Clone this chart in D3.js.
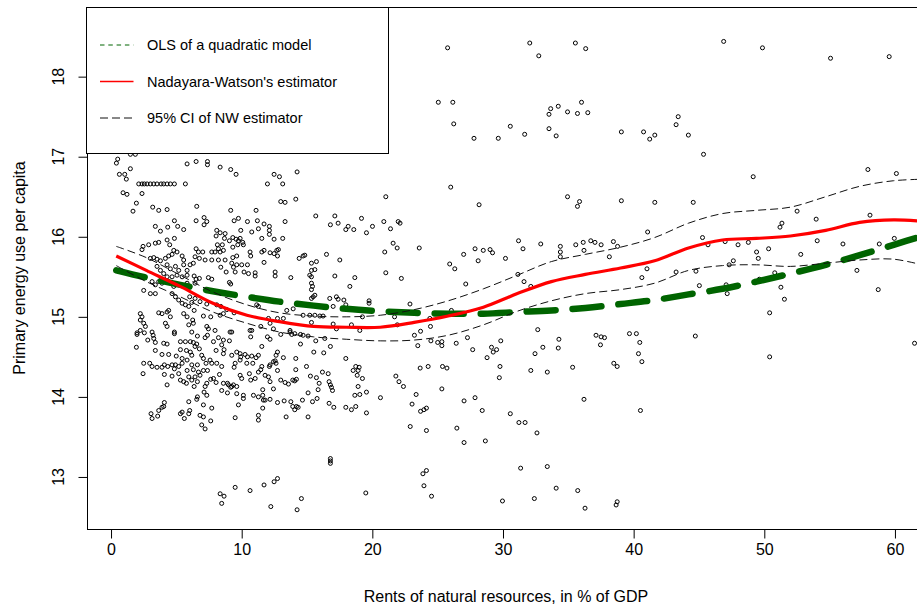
<!DOCTYPE html>
<html>
<head>
<meta charset="utf-8">
<script src="https://cdn.jsdelivr.net/npm/d3@7"></script>
<style>
  html, body { margin: 0; padding: 0; background: #fff; }
  svg { display: block; font-family: "Liberation Sans", Arial, sans-serif; }
</style>
</head>
<body>
<svg id="chart" width="917" height="612"></svg>
<script>
// Observations: [rents of natural resources (% of GDP), primary energy use per capita]
const observations = [
  [0.51,16.97],[0.41,16.92],[1.48,16.85],[1.48,17.03],[1.86,17.03],[5.82,16.91],[0.64,16.78],[1.05,16.78],[1.17,16.72],
  [2.12,16.66],[2.37,16.66],[2.55,16.66],[2.76,16.66],[3.01,16.66],[3.27,16.66],[3.52,16.66],[3.83,16.66],[4.03,16.66],[4.29,16.66],[4.54,16.66],[4.85,16.66],[5.69,16.66],
  [0.92,16.55],[1.22,16.53],[2.37,16.54],[1.94,16.42],[1.68,16.32],[3.19,16.37],[3.65,16.33],[4.29,16.34],[4.85,16.20],[3.39,16.13],[4.34,16.12],[3.78,16.07],[5.10,16.13],[5.56,16.09],
  [2.45,15.88],[2.88,15.90],[3.39,15.92],[3.65,15.93],[4.29,15.96],[4.85,15.98],[4.49,15.90],[2.37,15.84],
  [3.01,15.73],[3.27,15.74],[3.52,15.72],[3.78,15.70],[4.16,15.73],[4.41,15.76],[4.67,15.78],[4.80,15.83],[5.05,15.81],[5.44,15.76],[5.56,15.71],[4.29,15.65],[4.54,15.60],[4.93,15.63],[5.18,15.58],[5.56,15.65],[5.82,15.58],[3.52,15.63],[3.78,15.58],[4.03,15.54],[4.29,15.50],[4.67,15.50],[5.05,15.52],[5.44,15.50],[5.82,15.52],[3.14,15.44],[3.39,15.40],[3.65,15.44],[3.90,15.42],[4.41,15.44],[4.80,15.38],[5.31,15.40],[5.82,15.42],[2.50,15.33],[3.01,15.29],[3.39,15.29],[4.67,15.29],[4.93,15.25],[5.18,15.21],[5.44,15.17],[5.69,15.15],[5.95,15.13],[6.02,15.25],
  [2.24,15.04],[2.37,15.00],[2.24,14.96],[2.50,14.92],[2.63,14.88],[1.99,14.80],[2.24,14.83],[3.65,15.05],[3.90,15.04],[4.29,15.06],[4.41,15.08],[4.54,15.00],[4.16,14.92],[4.29,14.88],[4.85,14.81],[5.56,15.04],[5.82,15.00],[5.95,14.90],
  [6.51,16.94],[7.38,16.94],[7.38,16.90],[8.35,16.87],[9.16,16.84],[9.57,16.78],[12.48,16.78],[12.89,16.75],[11.97,16.66],[13.14,16.66],[12.99,16.44],[13.32,16.43],[6.56,16.38],[9.16,16.33],[11.10,16.33],[6.51,16.20],[7.12,16.24],[7.33,16.19],[7.12,16.15],[9.42,16.20],[9.75,16.23],[10.44,16.19],[11.20,16.20],[11.71,16.16],[12.12,16.13],[12.12,16.08],[12.12,16.03],[13.32,16.19],[9.93,16.08],[10.77,16.06],[11.28,16.10],[8.09,16.08],[8.35,16.05],[8.73,16.04],[8.04,16.01],[8.68,15.98],[9.06,15.95],[9.32,15.99],[9.57,15.97],[9.75,15.95],[9.88,15.98],[10.08,15.93],[11.54,15.98],[12.48,15.97],[13.14,15.98],[8.14,15.90],[8.22,15.85],[8.52,15.90],[9.32,15.87],[9.70,15.90],[10.13,15.90],[6.51,15.85],[6.69,15.81],[7.02,15.81],[6.43,15.75],[7.71,15.81],[7.96,15.81],[8.35,15.81],[8.60,15.83],[10.64,15.81],[10.69,15.76],[11.54,15.81],[11.71,15.83],[12.17,15.80],[12.48,15.79],[12.69,15.83],[12.81,15.84],[12.74,15.76],[9.32,15.74],[9.62,15.76],[6.76,15.73],[7.20,15.71],[7.71,15.71],[8.22,15.71],[8.73,15.71],[9.24,15.67],[9.62,15.65],[10.00,15.65],[10.44,15.65],[6.05,15.65],[6.30,15.67],[8.40,15.62],[8.81,15.56],[9.37,15.62],[9.50,15.56],[10.18,15.56],[10.52,15.54],[11.03,15.55],[11.03,15.51],[11.71,15.68],[12.56,15.56],[12.56,15.51],[13.76,15.49],[6.36,15.51],[6.51,15.47],[6.43,15.42],[6.76,15.48],[7.45,15.49],[7.71,15.47],[9.06,15.43],[9.16,15.41],[6.43,15.23],[6.18,15.18],[6.81,15.19],[7.33,15.16],[8.09,15.15],[8.40,15.13],[8.86,15.09],[9.42,15.05],[6.36,15.08],[7.07,15.01],[7.63,15.00],[8.35,15.02],[8.60,15.04],[6.25,14.96],[6.30,14.92],[7.33,14.88],[7.45,14.85],[7.96,14.83],[9.24,14.81],[10.64,14.83],[11.46,14.88],[12.17,14.92],[12.43,14.85],[11.15,15.15],[11.28,15.13],[12.05,14.98],[12.74,14.98],[13.19,14.98],[13.70,14.83],[13.45,15.08],
  [14.24,16.81],[14.14,16.47],[21.03,16.50],[15.67,16.26],[17.13,16.26],[16.79,16.15],[17.38,16.17],[17.97,16.09],[18.15,16.13],[18.58,16.09],[19.17,16.23],[19.55,16.05],[20.01,16.13],[20.88,16.19],[21.39,16.10],[21.98,16.19],[21.59,15.92],[21.90,15.86],[20.95,15.81],[14.40,15.73],[14.70,15.76],[14.83,15.77],[16.49,15.78],[17.51,15.71],[15.34,15.67],[15.72,15.69],[15.60,15.59],[15.34,15.58],[15.21,15.52],[15.34,15.50],[17.13,15.51],[18.66,15.49],[21.03,15.55],[15.34,15.42],[15.42,15.38],[15.34,15.34],[18.28,15.38],[15.60,15.27],[15.47,15.25],[15.34,15.23],[16.74,15.23],[17.25,15.25],[17.38,15.22],[17.82,15.21],[17.97,15.15],[17.00,15.13],[19.75,15.20],[19.75,15.17],[13.94,15.10],[14.70,15.02],[15.21,15.02],[15.60,15.02],[15.98,15.01],[16.23,15.01],[19.24,15.00],[15.34,14.93],[17.00,14.91],[17.25,14.85],[18.40,14.90],[19.04,14.83],[14.06,14.79],[14.70,14.77],
  [1.99,14.78],[2.55,14.80],[3.14,14.81],[3.22,14.77],[3.27,14.73],[3.39,14.68],[2.81,14.71],[1.94,14.62],[4.03,14.67],[4.29,14.66],[4.85,14.79],[5.31,14.69],[5.69,14.69],[6.07,14.69],[5.31,14.59],[5.77,14.58],[6.07,14.56],[3.39,14.58],[3.90,14.53],[4.41,14.53],[4.99,14.51],[5.44,14.48],[5.82,14.46],[2.50,14.42],[2.96,14.42],[3.14,14.38],[3.52,14.37],[3.90,14.37],[4.08,14.40],[4.34,14.38],[4.67,14.40],[4.93,14.40],[4.85,14.35],[5.18,14.38],[5.44,14.42],[2.45,14.29],[4.08,14.28],[4.67,14.26],[5.18,14.29],[5.82,14.33],[5.95,14.25],[5.31,14.21],[5.56,14.19],[5.77,14.17],[4.29,14.15],[5.95,13.94],[6.02,13.83],[5.95,13.79],[5.44,13.81],[5.31,13.79],[4.08,13.93],[4.03,13.88],[3.90,13.87],[3.65,13.83],[3.06,13.79],[3.14,13.73],[3.57,13.76],[5.61,13.73],
  [6.18,14.81],[6.61,14.76],[7.20,14.74],[7.38,14.77],[8.22,14.74],[8.60,14.71],[9.06,14.70],[9.11,14.81],[10.69,14.75],[10.77,14.83],[11.97,14.75],[12.17,14.72],[12.99,14.78],[13.70,14.81],[13.83,14.78],
  [6.30,14.68],[6.56,14.66],[6.43,14.63],[6.76,14.60],[7.84,14.69],[8.04,14.58],[8.47,14.65],[8.65,14.59],[8.60,14.54],
  [6.18,14.52],[6.94,14.52],[7.07,14.48],[7.58,14.46],[7.71,14.42],[7.27,14.42],[6.61,14.40],[6.18,14.40],[6.30,14.34],[6.69,14.31],[7.07,14.33],[7.38,14.33],[6.81,14.27],[6.43,14.25],[6.18,14.21],[6.61,14.19],[6.36,14.13],[7.33,14.17],[7.20,14.13],[7.63,14.22],[7.84,14.23],[8.04,14.18],
  [8.09,14.42],[8.47,14.38],[8.30,14.28],[8.60,14.17],[8.91,14.17],[8.47,14.08],[9.16,14.12],[9.37,14.15],[9.62,14.13],[8.91,14.05],[7.12,14.06],[7.33,14.02],[6.61,14.00],[6.56,13.97],[7.71,13.86],[7.07,13.90],
  [6.81,13.77],[7.07,13.75],[7.63,13.70],[6.94,13.65],[7.20,13.60],
  [9.24,14.52],[9.62,14.56],[9.88,14.54],[9.93,14.50],[9.88,14.46],[10.26,14.53],[10.44,14.50],[10.77,14.51],[11.10,14.49],[11.28,14.52],[10.85,14.42],[10.39,14.42],[9.50,14.42],[9.42,14.37],
  [9.88,14.27],[10.00,14.23],[10.59,14.29],[10.69,14.21],[11.03,14.23],[11.28,14.31],[11.46,14.34],[11.54,14.38],[12.17,14.40],[12.43,14.44],[12.56,14.45],[12.63,14.42],[12.63,14.52],[12.74,14.56],[13.19,14.49],[11.54,14.63],[12.12,14.38],[11.79,14.27],[12.05,14.25],[12.17,14.19],[12.74,14.33],
  [9.62,14.04],[10.13,14.02],[10.13,13.98],[9.75,13.90],[9.50,13.74],[10.90,14.02],[11.28,14.00],[11.61,14.02],[11.61,14.09],[11.66,13.96],[11.61,13.86],[11.79,13.96],[12.17,13.97],[12.43,14.10],[12.74,13.93],[13.25,13.95],[13.76,13.94],[13.91,13.88],[12.99,14.21],[13.32,14.18],[13.58,14.16],[13.91,14.21],
  [11.28,13.77],[11.28,13.71],[13.40,13.75],[8.99,14.15],[9.24,14.13],
  [12.74,12.98],[12.48,12.94],[11.71,12.90],[10.64,12.83],[9.50,12.87],[8.35,12.79],[8.65,12.76],[8.47,12.67],[12.23,12.63],
  [14.50,14.78],[15.08,14.76],[15.67,14.70],[16.36,14.73],[14.50,14.66],[16.79,14.63],[15.52,14.56],[16.28,14.55],[14.14,14.48],[17.97,14.48],
  [14.14,14.34],[14.96,14.38],[16.18,14.31],[16.62,14.29],[15.26,14.26],[15.72,14.24],[14.19,14.22],[14.06,14.20],[15.93,14.17],[15.85,14.09],[16.69,14.19],[16.79,14.15],[16.87,14.12],[16.95,14.08],[15.08,14.05],[15.77,13.98],[14.65,13.96],[15.42,13.94],[16.69,13.92],[17.05,13.87],[14.19,13.88],[14.32,13.87],[14.06,13.84],[15.08,13.75],
  [18.53,14.33],[18.73,14.38],[18.99,14.37],[18.91,14.33],[18.84,14.27],[19.24,14.23],[18.91,14.13],[18.66,14.02],[19.04,14.03],[19.55,14.06],[20.62,13.99],[17.97,13.87],[18.40,13.84],[18.73,13.88],[19.55,13.80],[21.80,14.26],
  [16.79,13.23],[16.79,13.20],[16.79,13.17],[19.50,12.80],[14.57,12.73],[14.24,12.59],
  [25.76,18.36],[32.05,18.42],[32.74,18.26],[35.54,18.42],[36.33,18.35],[46.89,18.44],[49.86,18.36],[55.07,18.23],[59.56,18.25],
  [25.05,17.68],[26.16,17.68],[26.23,17.41],[27.78,17.23],[29.64,17.23],[30.56,17.38],[31.66,17.28],
  [33.52,17.53],[33.65,17.60],[34.23,17.63],[34.94,17.56],[35.70,17.54],[36.01,17.68],[36.49,17.55],[33.52,17.35],[34.07,17.26],
  [39.06,17.31],[40.76,17.31],[41.23,17.22],[41.62,17.27],[43.25,17.40],[43.41,17.50],[44.19,17.27],[45.35,17.03],
  [49.15,16.75],[57.93,16.84],[60.11,16.79],
  [26.00,16.62],[28.17,16.40],[34.94,16.50],[35.86,16.44],[35.70,16.38],[39.06,16.45],[41.62,16.43],[44.56,16.43],
  [22.12,16.17],[23.59,15.86],[22.22,15.48],
  [25.92,15.66],[26.31,15.60],[27.15,15.41],[26.99,15.78],[27.86,15.85],[28.10,15.70],[28.49,15.83],[29.01,15.84],[29.20,15.80],[30.19,15.73],
  [31.19,15.95],[31.53,15.85],[32.89,15.91],[31.14,15.53],[31.61,15.44],[32.13,15.38],
  [34.39,15.88],[34.39,15.81],[34.39,15.75],[35.57,15.90],[36.14,15.93],[36.20,15.83],[36.72,15.95],[37.04,15.93],[37.51,15.90],[38.14,15.75],[38.45,15.94],[38.77,15.88],[41.07,16.06],
  [41.02,15.60],[40.63,15.49],[43.25,15.56],[44.77,15.57],[45.03,15.39],[45.27,15.99],[45.69,15.90],
  [47.00,15.94],[47.99,15.90],[48.78,15.93],[49.41,15.81],[49.54,15.73],[50.33,15.85],[51.20,16.12],[51.35,16.17],[52.51,16.32],[53.97,16.22],[54.05,15.95],[52.79,15.78],[56.02,15.91],[57.09,15.58],[58.09,16.27],[58.80,15.91],[59.95,15.98],[58.72,15.34],
  [47.31,15.65],[47.63,15.70],[47.08,15.40],[47.16,15.29],[49.62,15.47],[50.80,15.55],[51.27,15.37],[51.54,15.22],
  [22.88,15.16],[21.70,15.00],[21.91,14.90],[24.40,14.98],[24.45,14.88],[26.05,15.08],
  [23.22,14.77],[23.69,14.82],[23.48,14.64],[24.48,14.70],[25.00,14.68],[25.32,14.69],[25.32,14.64],[26.42,14.67],[27.28,14.74],[27.68,14.59],
  [29.12,14.62],[29.25,14.56],[29.51,14.59],[29.83,14.70],[28.78,14.49],[32.66,14.84],[33.05,14.62],[32.45,14.54],[34.23,14.61],[34.28,14.72],
  [37.12,14.77],[37.51,14.75],[37.77,14.74],[37.46,14.65],[39.68,14.79],[40.21,14.79],[40.47,14.68],[40.37,14.54],[40.63,14.44],[38.48,14.42],[38.74,14.38],[35.33,14.37],[33.39,14.31],[32.13,14.33],[29.77,14.38],[29.72,14.24],
  [44.72,14.76],[50.41,15.05],[50.41,14.50],
  [23.66,14.36],[24.27,14.38],[25.37,14.38],[25.71,14.36],[22.04,14.19],[22.38,14.13],[23.35,14.03],[23.04,13.91],[23.69,13.82],[23.95,13.84],[24.14,13.86],[22.90,13.63],[24.14,13.58],[25.32,14.10],[27.02,13.95],[27.86,13.99],[28.41,13.83],[26.47,13.61],[27.02,13.43],[28.65,13.45],[30.56,13.79],[31.22,13.68],[31.69,13.68],[32.60,13.55],[36.20,13.97],[40.52,13.83],
  [24.14,13.08],[23.87,13.04],[23.95,12.89],[24.53,12.76],[31.35,13.11],[33.39,13.13],[34.07,12.86],[35.72,12.83],[29.96,12.70],[32.40,12.73],[36.28,12.61],[38.74,12.69],[38.66,12.65],
  [61.50,14.67]
];

// Evaluation grid for the fitted curves (rents, % of GDP)
const fitGrid = [0.4, 2.7, 5.3, 7.8, 10.4, 12.9, 15.5, 18.0, 20.6, 23.2, 25.8, 28.5, 31.1, 33.7, 36.3, 39.0, 41.6, 44.2, 46.8, 49.4, 52.0, 54.7, 57.3, 59.9, 62.3];
// OLS fit of the quadratic model
const olsFit  = [15.58, 15.49, 15.40, 15.32, 15.25, 15.19, 15.14, 15.10, 15.07, 15.05, 15.04, 15.04, 15.06, 15.08, 15.11, 15.16, 15.21, 15.28, 15.35, 15.44, 15.54, 15.65, 15.77, 15.90, 16.02];
// Nadaraya-Watson kernel estimate and its 95% band
const nwFit   = [15.76, 15.58, 15.38, 15.17, 15.02, 14.94, 14.88, 14.87, 14.87, 14.93, 15.01, 15.12, 15.29, 15.44, 15.53, 15.61, 15.70, 15.86, 15.96, 15.98, 16.01, 16.08, 16.18, 16.21, 16.19];
const nwUpper = [15.88, 15.74, 15.52, 15.31, 15.15, 15.05, 15.01, 15.00, 15.02, 15.09, 15.20, 15.35, 15.52, 15.69, 15.78, 15.87, 15.99, 16.17, 16.29, 16.33, 16.37, 16.50, 16.63, 16.70, 16.72];
const nwLower = [15.64, 15.44, 15.25, 15.06, 14.92, 14.81, 14.75, 14.72, 14.70, 14.71, 14.77, 14.90, 15.07, 15.20, 15.29, 15.34, 15.42, 15.58, 15.64, 15.65, 15.63, 15.67, 15.71, 15.72, 15.64];

const xTicks = [0, 10, 20, 30, 40, 50, 60];
const yTicks = [13, 14, 15, 16, 17, 18];
const legendLabels = ["OLS of a quadratic model", "Nadayara-Watson's estimator", "95% CI of NW estimator"];
const xTitle = "Rents of natural resources, in % of GDP";
const yTitle = "Primary energy use per capita";

const svg = d3.select("#chart");
const W = 917, H = 612;
const plot = { left: 87, right: 925, top: 7, bottom: 529 };

svg.append("rect").attr("width", W).attr("height", H).attr("fill", "#fff");

const x = d3.scaleLinear().domain([-1.84, 62.3]).range([plot.left, plot.right]);
const y = d3.scaleLinear().domain([12.35, 18.87]).range([plot.bottom, plot.top]);

svg.append("clipPath").attr("id", "plotClip")
  .append("rect")
  .attr("x", plot.left).attr("y", plot.top)
  .attr("width", plot.right - plot.left).attr("height", plot.bottom - plot.top);

const body = svg.append("g").attr("clip-path", "url(#plotClip)");

// scatter of observations
body.append("g").selectAll("circle")
  .data(observations)
  .join("circle")
  .attr("cx", d => x(d[0]))
  .attr("cy", d => y(d[1]))
  .attr("r", 2)
  .attr("fill", "none")
  .attr("stroke", "#000")
  .attr("stroke-width", 1);

const lineOf = values => d3.line()
  .x((d, i) => x(fitGrid[i]))
  .y(d => y(d))
  .curve(d3.curveCatmullRom.alpha(0.5))(values);

// quadratic OLS
body.append("path")
  .attr("d", lineOf(olsFit))
  .attr("fill", "none")
  .attr("stroke", "#006400")
  .attr("stroke-width", 6.5)
  .attr("stroke-linecap", "round")
  .attr("stroke-dasharray", "29,17");

// Nadaraya-Watson estimate
body.append("path")
  .attr("d", lineOf(nwFit))
  .attr("fill", "none")
  .attr("stroke", "#ff0000")
  .attr("stroke-width", 3.2);

// confidence band
[nwUpper, nwLower].forEach(band => {
  body.append("path")
    .attr("d", lineOf(band))
    .attr("fill", "none")
    .attr("stroke", "#111")
    .attr("stroke-width", 1)
    .attr("stroke-dasharray", "8,4");
});

// plot frame
svg.append("rect")
  .attr("x", plot.left + 0.5).attr("y", plot.top + 0.5)
  .attr("width", plot.right - plot.left).attr("height", plot.bottom - plot.top)
  .attr("fill", "none").attr("stroke", "#000").attr("stroke-width", 1);

// x axis
const xAxis = svg.append("g")
  .attr("transform", `translate(0,${plot.bottom + 0.5})`)
  .call(d3.axisBottom(x).tickValues(xTicks).tickSize(9).tickPadding(5).tickFormat(d3.format("d")));
xAxis.select(".domain").remove();
xAxis.selectAll("line").attr("stroke", "#000");
xAxis.selectAll("text")
  .attr("fill", "#000")
  .style("font-family", "'Liberation Sans', Arial, sans-serif")
  .style("font-size", "16px");

// y axis
const yAxis = svg.append("g")
  .attr("transform", `translate(${plot.left + 0.5},0)`)
  .call(d3.axisLeft(y).tickValues(yTicks).tickSize(9).tickFormat(d3.format("d")));
yAxis.select(".domain").remove();
yAxis.selectAll("line").attr("stroke", "#000");
yAxis.selectAll("text").remove();
svg.append("g").selectAll("text")
  .data(yTicks)
  .join("text")
  .attr("transform", d => `translate(63.5,${y(d)}) rotate(-90)`)
  .attr("text-anchor", "middle")
  .attr("font-size", 16)
  .attr("fill", "#000")
  .text(d => d);

// axis titles
svg.append("text")
  .attr("x", (plot.left + plot.right) / 2)
  .attr("y", 602)
  .attr("text-anchor", "middle")
  .attr("font-size", 16)
  .attr("fill", "#000")
  .text(xTitle);

svg.append("text")
  .attr("transform", `translate(24.5,${(plot.top + plot.bottom) / 2}) rotate(-90)`)
  .attr("text-anchor", "middle")
  .attr("font-size", 16)
  .attr("fill", "#000")
  .text(yTitle);

// legend
const legend = svg.append("g");
legend.append("rect")
  .attr("x", 86.5).attr("y", 7.5)
  .attr("width", 302).attr("height", 146)
  .attr("fill", "#fff").attr("stroke", "#000").attr("stroke-width", 1);

const legendStyles = [
  { color: "#006400", width: 1, dash: "4.5,3.8" },
  { color: "#ff0000", width: 1.3, dash: null },
  { color: "#111", width: 1, dash: "8,4" }
];
const legendRows = [45, 81.5, 118];

legendLabels.forEach((label, i) => {
  const st = legendStyles[i];
  const ly = legendRows[i];
  const ln = legend.append("line")
    .attr("x1", 100).attr("x2", 133.5)
    .attr("y1", ly).attr("y2", ly)
    .attr("stroke", st.color)
    .attr("stroke-width", st.width);
  if (st.dash) ln.attr("stroke-dasharray", st.dash);
  legend.append("text")
    .attr("x", 147)
    .attr("y", ly + 5.3)
    .attr("font-size", 14.5)
    .attr("fill", "#000")
    .text(label);
});
</script>
</body>
</html>
